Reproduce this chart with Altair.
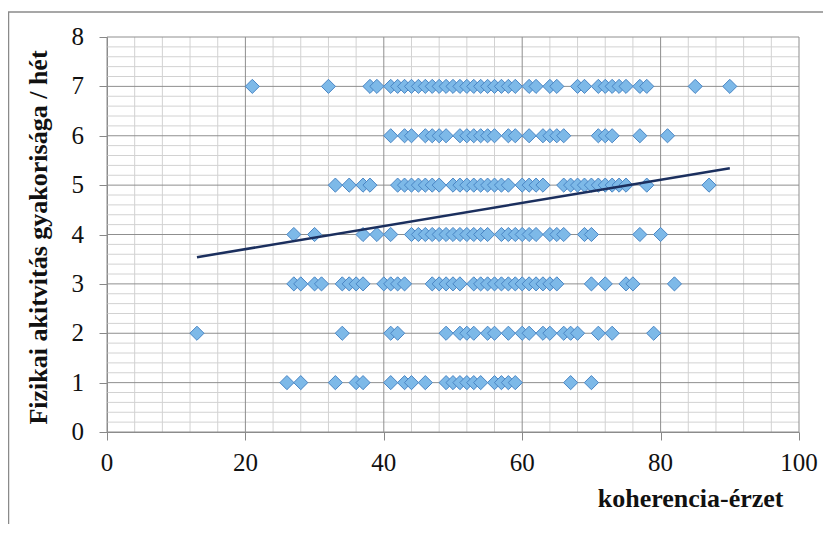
import altair as alt
import pandas as pd

# x values (koherencia-érzet) for each activity level (y)
row1 = [26, 28, 33, 36, 37, 41, 43, 44, 46, 49, 50, 51, 52, 53, 54, 56, 57, 58, 59, 67, 70]
row2 = [13, 34, 41, 42, 49, 51, 52, 53, 55, 56, 58, 60, 61, 63, 64, 66, 67, 68, 71, 73, 79]
row3 = [27, 28, 30, 31, 34, 35, 36, 37, 40, 41, 42, 43, 47, 48, 49, 50, 51, 53, 54, 55,
        56, 57, 58, 59, 60, 61, 62, 63, 64, 65, 70, 72, 75, 76, 82]
row4 = [27, 30, 37, 39, 41, 44, 45, 46, 47, 48, 49, 50, 51, 52, 53, 54, 55, 57, 58, 59,
        60, 61, 62, 64, 65, 66, 69, 70, 77, 80]
row5 = [33, 35, 37, 38, 42, 43, 44, 45, 46, 47, 48, 50, 51, 52, 53, 54, 55, 56, 57, 58,
        60, 61, 62, 63, 66, 67, 68, 69, 70, 71, 72, 73, 74, 75, 78, 87]
row6 = [41, 43, 44, 46, 47, 48, 49, 51, 52, 53, 54, 55, 56, 58, 59, 61, 63, 64, 65, 66,
        71, 72, 73, 77, 81]
row7 = [21, 32, 38, 39, 41, 42, 43, 44, 45, 46, 47, 48, 49, 50, 51, 52, 53, 54, 55, 56,
        57, 58, 59, 61, 62, 64, 65, 68, 69, 71, 72, 73, 74, 75, 77, 78, 85, 90]

trend_x = [13, 90]
trend_y = [3.54, 5.34]

x_ticks = [0, 20, 40, 60, 80, 100]
y_ticks = [0, 1, 2, 3, 4, 5, 6, 7, 8]
x_minor = [v for v in range(4, 100, 4) if v % 20 != 0]
y_minor = [round(i * 0.2, 1) for i in range(1, 40) if i % 5 != 0]

rows = [row1, row2, row3, row4, row5, row6, row7]
pts = pd.DataFrame([{"x": xv, "y": i + 1} for i, r in enumerate(rows) for xv in r])
trend = pd.DataFrame({"x": trend_x, "y": trend_y})

W, H = 692, 395
FONT = "Liberation Serif"
LFONT = "Times New Roman, Liberation Serif, DejaVu Serif, serif"
xs = alt.Scale(domain=[0, 100], nice=False, zero=False)
ys = alt.Scale(domain=[0, 8], nice=False, zero=False)

x_axis = alt.Axis(
    values=x_ticks, grid=False, domainColor="#888888", tickColor="#888888", tickSize=8,
    labels=False,
    title="koherencia-érzet", titleFont=FONT, titleFontSize=26, titleFontWeight="bold",
    titleColor="#111111", titleX=676, titleY=66, titleAlign="right", titleAnchor="end",
    titleBaseline="middle")
y_axis = alt.Axis(
    values=y_ticks, grid=False, domainColor="#888888", tickColor="#888888", tickSize=8,
    labels=False,
    title="Fizikai akitvitás gyakorisága / hét", titleFont=FONT, titleFontSize=26,
    titleFontWeight="bold", titleColor="#111111", titleX=-69, titleY=200,
    titleAngle=270, titleAlign="center", titleBaseline="middle")

minor_v = alt.Chart(pd.DataFrame({"x": x_minor})).mark_rule(color="#d2d2d2", strokeWidth=1).encode(
    x=alt.X("x:Q", scale=xs, axis=x_axis))
minor_h = alt.Chart(pd.DataFrame({"y": y_minor})).mark_rule(color="#d2d2d2", strokeWidth=1).encode(
    y=alt.Y("y:Q", scale=ys, axis=y_axis))
major_v = alt.Chart(pd.DataFrame({"x": x_ticks})).mark_rule(color="#8f8f8f", strokeWidth=1).encode(
    x=alt.X("x:Q", scale=xs, axis=x_axis))
major_h = alt.Chart(pd.DataFrame({"y": y_ticks})).mark_rule(color="#8f8f8f", strokeWidth=1).encode(
    y=alt.Y("y:Q", scale=ys, axis=y_axis))

x_labels = alt.Chart(pd.DataFrame({"x": x_ticks})).mark_text(
    font=LFONT, fontSize=25, fontWeight="normal", color="#111111", align="center",
    baseline="middle"
).encode(x=alt.X("x:Q", scale=xs, axis=x_axis), y=alt.value(H + 31), text=alt.Text("x:Q"))

y_labels = alt.Chart(pd.DataFrame({"y": y_ticks})).mark_text(
    font=LFONT, fontSize=25, fontWeight="normal", color="#111111", align="right",
    baseline="middle"
).encode(y=alt.Y("y:Q", scale=ys, axis=y_axis), x=alt.value(-23), text=alt.Text("y:Q"))

frame = alt.Chart(alt.Data(values=[{}])).mark_rect(
    fill="transparent", stroke="#8a8a8a", strokeWidth=1.5
).encode(x=alt.value(-98.5), x2=alt.value(900), y=alt.value(-25), y2=alt.value(700))

points = alt.Chart(pts).mark_point(
    shape="diamond", filled=True, size=200, fill="#7DB9E8", fillOpacity=1,
    stroke="#4A86C5", strokeWidth=1, opacity=1
).encode(
    x=alt.X("x:Q", scale=xs, axis=x_axis),
    y=alt.Y("y:Q", scale=ys, axis=y_axis),
)

line = alt.Chart(trend).mark_line(color="#1B2F5E", strokeWidth=2.5).encode(
    x=alt.X("x:Q", scale=xs, axis=x_axis), y=alt.Y("y:Q", scale=ys, axis=y_axis))

chart = alt.layer(frame, minor_v, minor_h, major_v, major_h, points, line,
                  x_labels, y_labels).properties(
    width=W, height=H, background="white",
    autosize=alt.AutoSizeParams(type="none"),
    padding={"left": 99, "top": 29, "right": 24, "bottom": 92},
).configure_view(stroke=None)

chart.save("out.html", embed_options={"renderer": "svg", "actions": False})
